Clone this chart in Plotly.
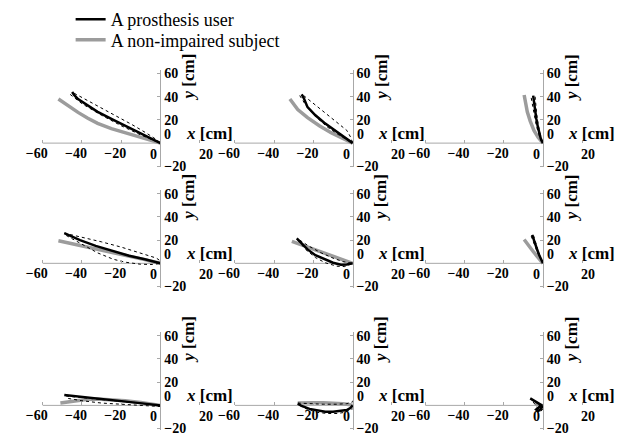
import plotly.graph_objects as go

# ---------------- data (cm) ----------------
# Panel 1
p1_user_x = [-45, -44, -42, -38, -32, -24, -16, -8, -3, 0]
p1_user_y = [44, 41.5, 38, 33.5, 27, 20, 13.5, 6.7, 2.5, 0]
p1_hi_x = [-44, -38, -30, -22, -14, -7, -2, 0]
p1_hi_y = [43, 37.5, 30.5, 23.5, 15.5, 8.5, 3, 0]
p1_lo_x = [-46, -40, -30, -20, -10, -3, 0]
p1_lo_y = [42, 34, 24, 15, 7, 2, 0]
p1_able_x = [-52, -47, -42, -37, -32, -25, -16, -8, -3, 0]
p1_able_y = [38, 32, 26.5, 21.5, 17, 12.5, 7.8, 3.6, 1.2, 0]
# Panel 2
p2_user_x = [-26, -25, -23, -19, -14.5, -10, -6, -2.5, 0]
p2_user_y = [42, 39, 31, 24, 17.5, 12, 7.5, 3, 0]
p2_hi_x = [-25, -20, -14, -8, -3, -1, 0]
p2_hi_y = [41, 34, 26, 18, 11, 5, 0]
p2_lo_x = [-27, -24, -19, -13, -7, -2, 0]
p2_lo_y = [41, 33, 23, 14, 7, 2, 0]
p2_able_x = [-32, -28, -23, -17, -11, -5, -1.5, 0]
p2_able_y = [38, 29, 22, 15, 9, 4, 1, 0]
# Panel 3
p3_user_x = [-5, -4.6, -4, -3.4, -2.6, -1.8, -1, 0]
p3_user_y = [41, 35, 28, 21, 14, 8, 3, 0]
p3_hi_x = [-4, -3.8, -3.2, -2.5, -1.6, -0.5, 0]
p3_hi_y = [40, 33, 25, 17, 9, 3, 0]
p3_lo_x = [-6, -5.3, -4.5, -3.5, -2.4, -1.2, 0]
p3_lo_y = [39, 32, 24, 16, 9, 3, 0]
p3_able_x = [-9.6, -9, -8, -6.5, -4.6, -2.5, -1, 0]
p3_able_y = [41.5, 34, 27, 19, 11, 5, 1.5, 0]
# Panel 4
p4_user_x = [-49, -46, -41, -33, -24, -16, -8, -3, 0]
p4_user_y = [26, 23.5, 20, 15, 10.5, 6.5, 3.5, 1.2, 0]
p4_hi_x = [-49, -40, -30, -20, -10, -2, 0]
p4_hi_y = [26, 22.5, 18.5, 14, 9, 4.5, 2]
p4_lo_x = [-48, -41, -32, -24, -18, -10, -4, 0]
p4_lo_y = [24, 17.5, 9, 3.5, 1, -0.8, -1, 0]
p4_able_x = [-52, -45, -38, -31, -24, -16, -8, -3, 0]
p4_able_y = [19.5, 17, 14.5, 11.5, 9, 6.2, 3.2, 1.1, 0]
# Panel 5
p5_user_x = [-28.5, -26, -23, -19, -14.5, -10, -6, -3, 0]
p5_user_y = [21.5, 17, 12, 7, 3.5, 0.5, -1.2, -1, 0]
p5_hi_x = [-27, -22, -16, -10, -5, -1, 0]
p5_hi_y = [20, 14.5, 9, 4.5, 1.5, 0.3, 0]
p5_lo_x = [-28, -24, -19, -14, -8, -4, 0]
p5_lo_y = [20, 12, 5, 0.5, -2.5, -2.8, 0]
p5_able_x = [-31, -26, -22, -18, -13, -8, -4, 0]
p5_able_y = [19, 16, 13.5, 11.5, 8.5, 5.5, 3, 0]
# Panel 6
p6_user_x = [-5.5, -4.8, -3.9, -2.9, -1.9, -0.9, 0]
p6_user_y = [24.5, 20.5, 16, 11.5, 7, 3, 0]
p6_hi_x = [-4.8, -4.2, -3.4, -2.5, -1.5, -0.6, 0]
p6_hi_y = [24, 20, 15.5, 11, 6.5, 2.5, 0]
p6_lo_x = [-6, -5.2, -4.2, -3.1, -2, -1, 0]
p6_lo_y = [23.5, 19.5, 15, 10.5, 6.5, 3, 0]
p6_able_x = [-9.6, -8.2, -6.6, -4.9, -3.2, -1.6, 0]
p6_able_y = [20.5, 17, 13.5, 10, 6.5, 3, 0]
# Panel 7
p7_user_x = [-49, -44, -38, -30, -22, -14, -7, -2, 0]
p7_user_y = [9, 8, 7, 5.5, 4, 2.6, 1.3, 0.4, 0]
p7_hi_x = [-48, -40, -30, -20, -10, -2, 0]
p7_hi_y = [8, 6.5, 5, 3.5, 2, 0.5, 0]
p7_lo_x = [-47, -40, -30, -20, -10, -3, 0]
p7_lo_y = [6, 4, 2, 1, 0.2, -0.8, -1]
p7_able_x = [-51, -45, -38, -32, -25, -18, -10, -4, 0]
p7_able_y = [2, 3.5, 5, 5.5, 5, 4, 2.5, 1, 0]
# Panel 8
p8_user_x = [-28, -26, -22, -18, -14, -10, -6, -3, -1, 0]
p8_user_y = [1.5, -0.5, -3, -4.5, -5.5, -5.5, -5, -4, -2, 0]
p8_hi_x = [-28, -22, -15, -8, -3, 0, 0.5]
p8_hi_y = [2, 1.5, 1, 1, 1.5, 3, 5]
p8_lo_x = [-27, -23, -18, -13, -8, -4, 0]
p8_lo_y = [0, -3.5, -6, -7, -7, -6, -3]
p8_able_x = [-28, -24, -20, -15, -10, -5, -2, 0]
p8_able_y = [2, 2.3, 2.3, 2.2, 2, 1.5, 0.8, 0]
# Panel 9
p9_user_x = [-6.5, -5, -3.5, -2, -1, -2, -3.5, -2.5, -1, 0]
p9_user_y = [6, 4.5, 3, 2, 0.5, -1.5, -3.5, -5, -3, 0]
p9_hi_x = [-6, -4.5, -3, -1.5, -0.5, 0]
p9_hi_y = [5, 4, 2.5, 1, -1, -2]
p9_lo_x = [-5, -4, -3, -2, -1, 0]
p9_lo_y = [3, 1, -1.5, -4, -5, -3]
p9_able_x = [-4, -3, -2, -1, 0]
p9_able_y = [1.5, 0.8, 0.2, -0.3, 0]

series_names = ["A prosthesis user", "A non-impaired subject"]
x_ticks = [-60, -40, -20, 20]
x_tick_text = ["\u221260", "\u221240", "\u221220", ""]
x_end_tick = 20
x_end_label = "20"
y_ticks = [-20, 20, 40, 60]
y_tick_text = ["\u221220", "20", "40", "60"]
zero_label = "0"
x_label = "<i>x</i> [cm]"
y_label = "<i>y</i> [cm]"

panels = [
    (p1_user_x, p1_user_y, p1_hi_x, p1_hi_y, p1_lo_x, p1_lo_y, p1_able_x, p1_able_y),
    (p2_user_x, p2_user_y, p2_hi_x, p2_hi_y, p2_lo_x, p2_lo_y, p2_able_x, p2_able_y),
    (p3_user_x, p3_user_y, p3_hi_x, p3_hi_y, p3_lo_x, p3_lo_y, p3_able_x, p3_able_y),
    (p4_user_x, p4_user_y, p4_hi_x, p4_hi_y, p4_lo_x, p4_lo_y, p4_able_x, p4_able_y),
    (p5_user_x, p5_user_y, p5_hi_x, p5_hi_y, p5_lo_x, p5_lo_y, p5_able_x, p5_able_y),
    (p6_user_x, p6_user_y, p6_hi_x, p6_hi_y, p6_lo_x, p6_lo_y, p6_able_x, p6_able_y),
    (p7_user_x, p7_user_y, p7_hi_x, p7_hi_y, p7_lo_x, p7_lo_y, p7_able_x, p7_able_y),
    (p8_user_x, p8_user_y, p8_hi_x, p8_hi_y, p8_lo_x, p8_lo_y, p8_able_x, p8_able_y),
    (p9_user_x, p9_user_y, p9_hi_x, p9_hi_y, p9_lo_x, p9_lo_y, p9_able_x, p9_able_y),
]

# ---------------- layout geometry (pixels) ----------------
W, H = 623, 439
COL_PX = [149, 346, 541]      # pixel x of x=0 per column
ROW_PX = [142.7, 266, 411.7]  # pixel y of y=0 per row
SX, SY = 2.01, 1.19           # px per cm
X_RANGE = [-61, 21]
Y_RANGE = [-21, 63]

BLACK = "#000000"
GRAY = "#9c9c9c"
AXIS = "#a8a8a8"
SERIF = '"Liberation Serif", "Times New Roman", Times, "DejaVu Serif", serif'
tickfont = dict(family=SERIF, size=14, color="black", weight="bold")
labelfont = dict(family=SERIF, size=17, color="black", weight="bold")

fig = go.Figure()
layout = {}
annotations = []
shapes = []

for k, (ux, uy, hx, hy, lx, ly, ax_, ay) in enumerate(panels):
    r, c = divmod(k, 3)
    sfx = "" if k == 0 else str(k + 1)
    xa, ya = "x" + sfx, "y" + sfx
    first = k == 0
    fig.add_trace(go.Scatter(x=ax_, y=ay, mode="lines", name=series_names[1],
                             line=dict(color=GRAY, width=3.5), legend="legend2",
                             showlegend=first, xaxis=xa, yaxis=ya, hoverinfo="skip"))
    fig.add_trace(go.Scatter(x=hx, y=hy, mode="lines", line=dict(color=BLACK, width=1, dash="dot"),
                             showlegend=False, xaxis=xa, yaxis=ya, hoverinfo="skip"))
    fig.add_trace(go.Scatter(x=lx, y=ly, mode="lines", line=dict(color=BLACK, width=1, dash="dot"),
                             showlegend=False, xaxis=xa, yaxis=ya, hoverinfo="skip"))
    fig.add_trace(go.Scatter(x=ux, y=uy, mode="lines", name=series_names[0],
                             line=dict(color=BLACK, width=2.5), legend="legend",
                             showlegend=first, xaxis=xa, yaxis=ya, hoverinfo="skip"))

    ox, oy = COL_PX[c], ROW_PX[r]
    xdom = [(ox + X_RANGE[0] * SX) / W, (ox + X_RANGE[1] * SX) / W]
    ydom = [1 - (oy - Y_RANGE[0] * SY) / H, 1 - (oy - Y_RANGE[1] * SY) / H]
    layout["xaxis" + sfx] = dict(domain=xdom, range=X_RANGE, anchor="free",
                                 position=1 - oy / H, side="bottom", showline=False,
                                 ticks="inside", ticklen=3, tickcolor=AXIS,
                                 tickvals=x_ticks, ticktext=x_tick_text, tickfont=tickfont,
                                 ticklabelshift=-6,
                                 showgrid=False, zeroline=False, fixedrange=True)
    layout["yaxis" + sfx] = dict(domain=ydom, range=Y_RANGE, anchor="free",
                                 position=ox / W, side="right", showline=True,
                                 linecolor=AXIS, linewidth=1,
                                 ticks="inside", ticklen=3, tickcolor=AXIS,
                                 tickvals=y_ticks, ticktext=y_tick_text, tickfont=tickfont,
                                 showgrid=False, zeroline=False, fixedrange=True)
    # x-axis line from -60 to 0
    shapes.append(dict(type="line", xref=xa, yref=ya, x0=x_ticks[0], x1=0, y0=0, y1=0,
                       line=dict(color=AXIS, width=1), layer="below"))
    # zero labels and the +20 label
    annotations.append(dict(xref=xa, yref=ya, x=0, y=0, text=zero_label, showarrow=False,
                            xanchor="right", yanchor="top", xshift=-1, yshift=-2,
                            font=tickfont))
    annotations.append(dict(xref=xa, yref=ya, x=x_end_tick, y=0, text=x_end_label, showarrow=False,
                            xanchor="center", yanchor="top", xshift=6, yshift=-2,
                            font=tickfont))
    annotations.append(dict(xref=xa, yref=ya, x=0, y=0, text=zero_label, showarrow=False,
                            xanchor="left", yanchor="middle", xshift=2, yshift=8.5,
                            font=tickfont))
    # axis labels
    annotations.append(dict(xref=xa, yref=ya, x=0, y=0, text=x_label, showarrow=False,
                            xanchor="center", yanchor="middle", xshift=49, yshift=10,
                            font=labelfont))
    annotations.append(dict(xref=xa, yref=ya, x=0, y=0, text=y_label, showarrow=False,
                            textangle=-90, xanchor="center", yanchor="middle",
                            xshift=28, yshift=66, font=labelfont))

legend_font = dict(family=SERIF, size=18, color="black")
fig.update_layout(
    width=W, height=H, margin=dict(l=0, r=0, t=0, b=0),
    paper_bgcolor="white", plot_bgcolor="rgba(0,0,0,0)",
    showlegend=True,
    legend=dict(x=57 / W, y=1 + 3 / H, xanchor="left", yanchor="top",
                font=legend_font, bgcolor="rgba(0,0,0,0)"),
    legend2=dict(x=57 / W, y=1 - 18 / H, xanchor="left", yanchor="top",
                 font=legend_font, bgcolor="rgba(0,0,0,0)"),
    annotations=annotations, shapes=shapes,
    **layout,
)

fig.write_html("out.html")
